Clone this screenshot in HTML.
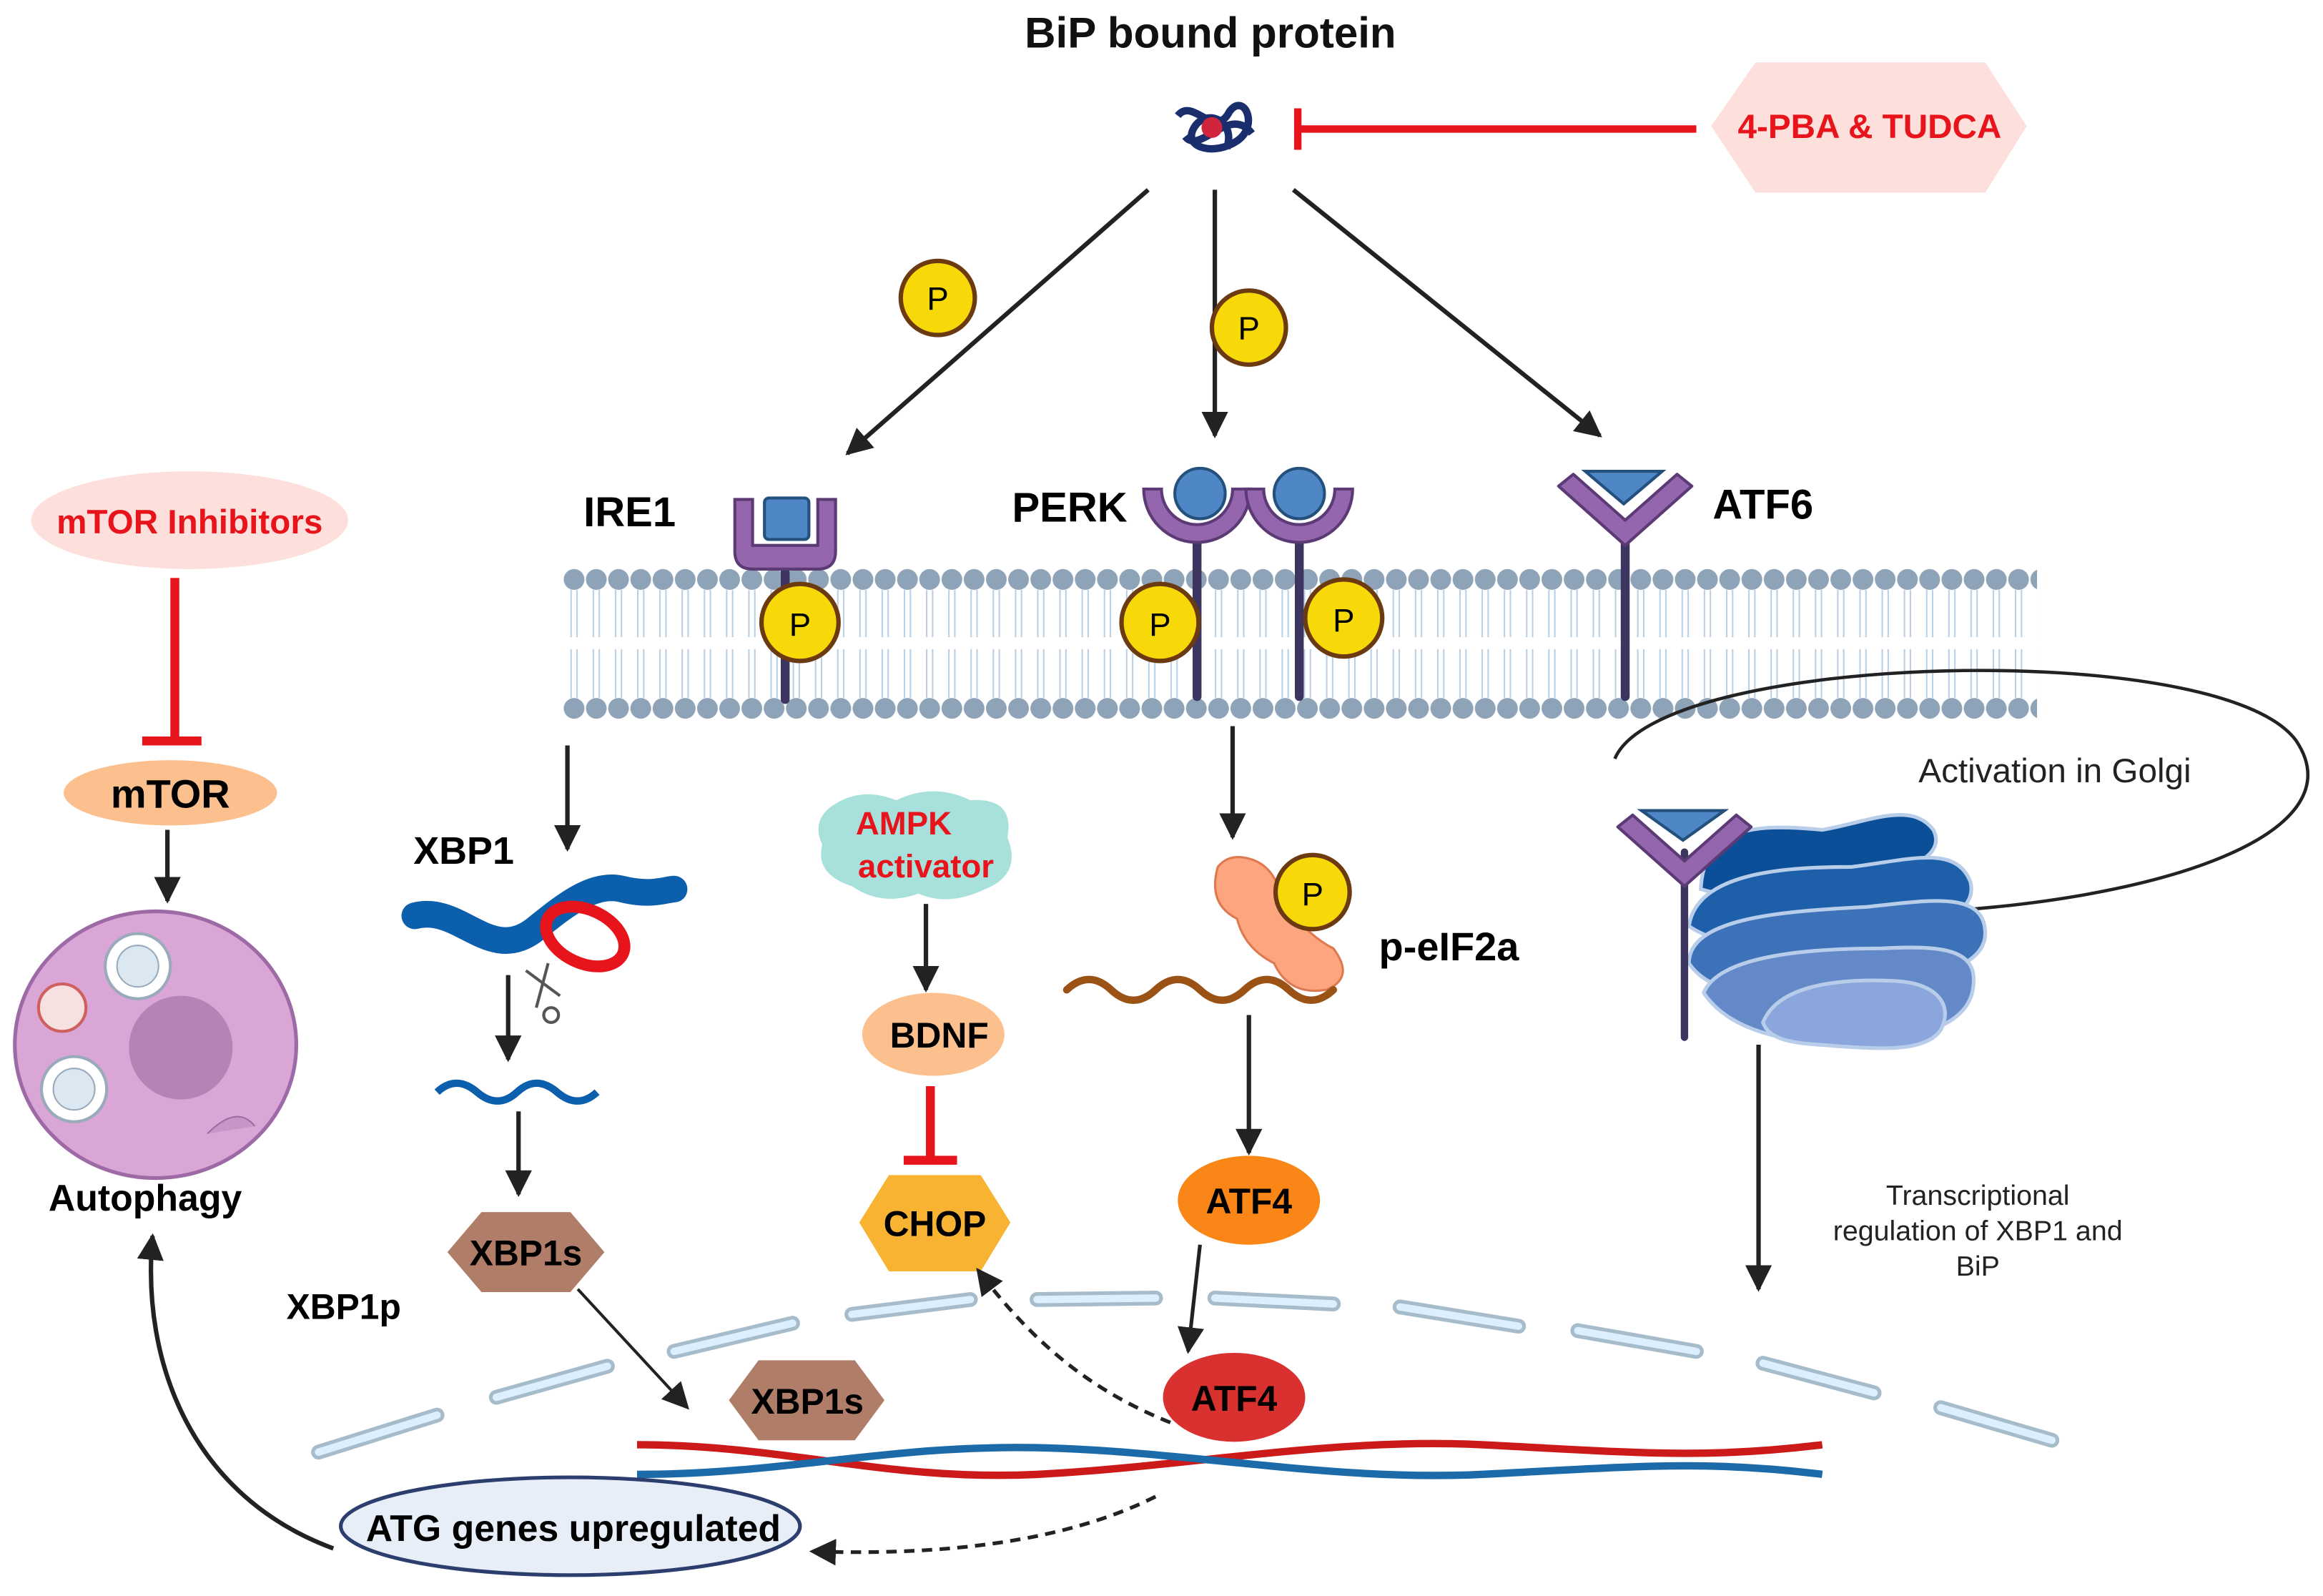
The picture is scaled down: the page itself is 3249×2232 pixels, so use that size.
<!DOCTYPE html>
<html><head><meta charset="utf-8"><style>
html,body{margin:0;padding:0;background:#fff;}
svg{display:block;}
text{font-family:"Liberation Sans",sans-serif;}
.b{font-weight:bold;}
</style></head><body>
<svg width="3249" height="2232" viewBox="0 0 1568 1077" xmlns="http://www.w3.org/2000/svg">
<defs>
<marker id="ah" viewBox="0 0 10 10" refX="9" refY="5" markerWidth="7" markerHeight="7" orient="auto-start-reverse" markerUnits="userSpaceOnUse"><path d="M0,0 L10,5 L0,10 z" fill="#222"/></marker>
<marker id="ah2" viewBox="0 0 10 10" refX="9" refY="5" markerWidth="18" markerHeight="18" orient="auto" markerUnits="userSpaceOnUse"><path d="M0,0 L10,5 L0,10 z" fill="#222"/></marker>
<pattern id="mem" x="380" y="0" width="15" height="1077" patternUnits="userSpaceOnUse">
<circle cx="7.5" cy="391" r="7" fill="#8fa3b8"/>
<circle cx="7.5" cy="478" r="7" fill="#8fa3b8"/>
<path d="M5.5,398 L5.5,430 M9.5,398 L9.5,430 M5.5,438 L5.5,471 M9.5,438 L9.5,471" stroke="#b9cfe6" stroke-width="1"/>
</pattern>
</defs>
<rect width="1568" height="1077" fill="#fff"/>

<!-- Title -->
<text x="817" y="32" font-size="29" class="b" text-anchor="middle" fill="#111">BiP bound protein</text>
<!-- protein squiggle -->
<g fill="none" stroke="#1a2e6e" stroke-width="5">
<path d="M795,78 C805,65 820,95 830,75 C840,62 850,85 835,95 C820,105 800,100 805,88 C812,72 835,80 828,100"/>
<path d="M800,92 C810,105 830,70 845,90"/>
</g>
<circle cx="818" cy="86" r="7" fill="#d0253c"/>
<!-- inhibitor -->
<line x1="1145" y1="87" x2="876" y2="87" stroke="#e8141c" stroke-width="5"/>
<line x1="876" y1="73" x2="876" y2="101" stroke="#e8141c" stroke-width="5"/>
<polygon points="1155,85 1185,42 1340,42 1368,85 1340,130 1185,130" fill="#fde0dc"/>
<text x="1262" y="93" font-size="23" class="b" text-anchor="middle" fill="#e8141c">4-PBA &amp; TUDCA</text>

<!-- top arrows -->
<g stroke="#222" stroke-width="3" marker-end="url(#ah2)">
<line x1="775" y1="128" x2="572" y2="306"/>
<line x1="820" y1="128" x2="820" y2="294"/>
<line x1="873" y1="128" x2="1080" y2="294"/>
</g>
<g stroke="#6b3a10" stroke-width="3" fill="#f7d90a">
<circle cx="633" cy="201" r="25"/><circle cx="843" cy="221" r="25"/>
</g>
<text x="633" y="209" font-size="22" text-anchor="middle">P</text>
<text x="843" y="229" font-size="22" text-anchor="middle">P</text>

<!-- membrane -->
<rect x="380" y="380" width="995" height="106" fill="url(#mem)"/>

<!-- IRE1 -->
<text x="425" y="355" font-size="28" class="b" text-anchor="middle">IRE1</text>
<line x1="530" y1="380" x2="530" y2="472" stroke="#3b3560" stroke-width="6" stroke-linecap="round"/>
<path d="M496,337 L496,372 Q496,384 508,384 L552,384 Q564,384 564,372 L564,337 L552,337 L552,368 L508,368 L508,337 Z" fill="#9466ad" stroke="#5c3a75" stroke-width="2"/>
<rect x="516" y="336" width="30" height="28" rx="3" fill="#4f86c6" stroke="#24507e" stroke-width="2"/>
<circle cx="540" cy="420" r="26" fill="#f7d90a" stroke="#6b3a10" stroke-width="3"/>
<text x="540" y="429" font-size="22" text-anchor="middle">P</text>

<!-- PERK -->
<text x="722" y="352" font-size="28" class="b" text-anchor="middle">PERK</text>
<g stroke="#3b3560" stroke-width="6" stroke-linecap="round"><line x1="808" y1="365" x2="808" y2="470"/><line x1="877" y1="365" x2="877" y2="470"/></g>
<path d="M772,330 A36,36 0 0 0 844,330 L832,330 A24,24 0 0 1 784,330 Z" fill="#9466ad" stroke="#5c3a75" stroke-width="2"/>
<path d="M841,330 A36,36 0 0 0 913,330 L901,330 A24,24 0 0 1 853,330 Z" fill="#9466ad" stroke="#5c3a75" stroke-width="2"/>
<circle cx="810" cy="333" r="17" fill="#4f86c6" stroke="#24507e" stroke-width="2"/>
<circle cx="877" cy="333" r="17" fill="#4f86c6" stroke="#24507e" stroke-width="2"/>
<circle cx="783" cy="420" r="26" fill="#f7d90a" stroke="#6b3a10" stroke-width="3"/>
<text x="783" y="429" font-size="22" text-anchor="middle">P</text>
<circle cx="907" cy="417" r="26" fill="#f7d90a" stroke="#6b3a10" stroke-width="3"/>
<text x="907" y="426" font-size="22" text-anchor="middle">P</text>

<!-- ATF6 -->
<text x="1190" y="350" font-size="28" class="b" text-anchor="middle">ATF6</text>
<line x1="1097" y1="365" x2="1097" y2="470" stroke="#3b3560" stroke-width="6" stroke-linecap="round"/>
<path d="M1052,328 L1097,368 L1142,328 L1132,320 L1097,351 L1062,320 Z" fill="#9466ad" stroke="#5c3a75" stroke-width="2" stroke-linejoin="round"/>
<polygon points="1070,318 1122,318 1096,340" fill="#4f86c6" stroke="#24507e" stroke-width="2"/>

<!-- curved arrow Golgi -->
<path d="M1090,512 C1120,440 1500,430 1550,500 C1590,560 1470,605 1310,615" fill="none" stroke="#222" stroke-width="2.2" marker-end="url(#ah2)"/>
<text x="1387" y="528" font-size="23" text-anchor="middle" fill="#222">Activation in Golgi</text>

<!-- Golgi -->
<g stroke="#b8cdea" stroke-width="2.5">
<path d="M1148,600 C1150,560 1180,555 1230,560 C1260,555 1290,540 1305,560 C1315,580 1280,590 1250,595 C1220,600 1180,610 1148,600 Z" fill="#0b4f98"/>
<path d="M1140,625 C1145,590 1200,585 1250,585 C1290,580 1320,570 1330,595 C1335,615 1310,625 1270,630 C1220,640 1170,645 1140,625 Z" fill="#1d5fa8"/>
<path d="M1140,650 C1140,620 1200,615 1260,612 C1300,608 1340,600 1340,630 C1340,650 1310,660 1270,665 C1220,672 1160,680 1140,650 Z" fill="#3d72b8"/>
<path d="M1150,670 C1160,645 1220,640 1270,640 C1310,638 1335,640 1332,665 C1330,690 1300,700 1260,703 C1220,706 1170,700 1150,670 Z" fill="#6489c9"/>
<path d="M1190,690 C1200,665 1240,660 1280,662 C1310,664 1318,680 1310,695 C1300,710 1270,708 1240,706 C1220,704 1195,705 1190,690 Z" fill="#8aa6dc"/>
</g>
<line x1="1137" y1="575" x2="1137" y2="700" stroke="#3b3560" stroke-width="5" stroke-linecap="round"/>
<path d="M1092,558 L1137,598 L1182,558 L1172,550 L1137,581 L1102,550 Z" fill="#9466ad" stroke="#5c3a75" stroke-width="2" stroke-linejoin="round"/>
<polygon points="1108,547 1164,547 1136,567" fill="#4f86c6" stroke="#24507e" stroke-width="2"/>
<line x1="1187" y1="705" x2="1187" y2="870" stroke="#222" stroke-width="3" marker-end="url(#ah2)"/>
<text font-size="19" text-anchor="middle" fill="#222"><tspan x="1335" y="813">Transcriptional</tspan><tspan x="1335" y="837">regulation of XBP1 and</tspan><tspan x="1335" y="861">BiP</tspan></text>

<!-- mTOR side -->
<ellipse cx="128" cy="351" rx="107" ry="33" fill="#fde0dc"/>
<text x="128" y="360" font-size="23" class="b" text-anchor="middle" fill="#e8141c">mTOR Inhibitors</text>
<line x1="118" y1="390" x2="118" y2="500" stroke="#e8141c" stroke-width="6"/>
<line x1="96" y1="500" x2="136" y2="500" stroke="#e8141c" stroke-width="6"/>
<ellipse cx="115" cy="535" rx="72" ry="22" fill="#fcc08f"/>
<text x="115" y="545" font-size="27" class="b" text-anchor="middle">mTOR</text>
<line x1="113" y1="560" x2="113" y2="608" stroke="#222" stroke-width="3" marker-end="url(#ah2)"/>
<ellipse cx="105" cy="705" rx="95" ry="90" fill="#d9a6d6" stroke="#9e6aa6" stroke-width="2.5"/>
<circle cx="122" cy="707" r="35" fill="#b783b7"/>
<circle cx="93" cy="652" r="22" fill="#fff" stroke="#9ab" stroke-width="2"/><circle cx="93" cy="652" r="14" fill="#dbe8f2" stroke="#9ab"/>
<circle cx="50" cy="735" r="22" fill="#fff" stroke="#9ab" stroke-width="2"/><circle cx="50" cy="735" r="14" fill="#dbe8f2" stroke="#9ab"/>
<circle cx="42" cy="680" r="16" fill="#f7e0e0" stroke="#d06060" stroke-width="2"/>
<path d="M140,765 Q160,745 172,760" fill="#c995c9" stroke="#9e6aa6"/>
<text x="98" y="817" font-size="25" class="b" text-anchor="middle">Autophagy</text>

<!-- IRE1 branch -->
<line x1="383" y1="503" x2="383" y2="573" stroke="#222" stroke-width="3" marker-end="url(#ah2)"/>
<text x="313" y="583" font-size="26" class="b" text-anchor="middle">XBP1</text>
<path d="M280,618 C310,610 330,650 360,628 C380,612 400,595 420,600 C440,605 450,600 455,600" fill="none" stroke="#0b5fad" stroke-width="18" stroke-linecap="round"/>
<ellipse cx="395" cy="632" rx="28" ry="18" fill="none" stroke="#e8141c" stroke-width="8" transform="rotate(25 395 632)"/>
<path d="M355,655 L378,672 M370,650 L362,680" stroke="#555" stroke-width="2"/>
<circle cx="372" cy="685" r="5" fill="none" stroke="#555" stroke-width="2"/>
<line x1="343" y1="658" x2="343" y2="715" stroke="#222" stroke-width="3" marker-end="url(#ah2)"/>
<path d="M295,737 q13,-12 27,0 t27,0 t27,0 t27,0" fill="none" stroke="#0b5fad" stroke-width="5"/>
<line x1="350" y1="750" x2="350" y2="806" stroke="#222" stroke-width="3" marker-end="url(#ah2)"/>
<polygon points="302,845 325,818 385,818 408,845 385,872 325,872" fill="#b07d68"/>
<text x="355" y="854" font-size="24" class="b" text-anchor="middle">XBP1s</text>
<text x="232" y="890" font-size="24" class="b" text-anchor="middle">XBP1p</text>
<line x1="390" y1="870" x2="464" y2="950" stroke="#222" stroke-width="2" marker-end="url(#ah2)"/>

<!-- AMPK branch -->
<path d="M560,545 Q580,530 605,540 Q630,528 655,540 Q685,538 680,565 Q690,590 665,600 Q640,612 620,603 Q595,612 575,598 Q550,590 555,570 Q548,555 560,545 Z" fill="#a8e0dc"/>
<text font-size="22" class="b" text-anchor="middle" fill="#e8141c"><tspan x="610" y="563">AMPK</tspan><tspan x="625" y="592">activator</tspan></text>
<line x1="625" y1="610" x2="625" y2="668" stroke="#222" stroke-width="3" marker-end="url(#ah2)"/>
<ellipse cx="630" cy="698" rx="48" ry="28" fill="#fcc08f"/>
<text x="634" y="707" font-size="24" class="b" text-anchor="middle">BDNF</text>
<line x1="628" y1="733" x2="628" y2="783" stroke="#e8141c" stroke-width="6"/>
<line x1="610" y1="783" x2="646" y2="783" stroke="#e8141c" stroke-width="6"/>
<polygon points="580,825 600,793 662,793 682,825 662,858 600,858" fill="#f8b333"/>
<text x="631" y="834" font-size="24" class="b" text-anchor="middle">CHOP</text>

<!-- PERK branch -->
<line x1="832" y1="490" x2="832" y2="565" stroke="#222" stroke-width="3" marker-end="url(#ah2)"/>
<path d="M822,585 Q830,575 845,580 Q860,585 865,605 Q880,630 900,640 Q915,660 895,668 Q870,672 860,650 Q840,640 835,620 Q815,610 822,585 Z" fill="#fca57e" stroke="#e07850" stroke-width="1.5"/>
<circle cx="886" cy="602" r="25" fill="#f7d90a" stroke="#6b3a10" stroke-width="3"/>
<text x="886" y="611" font-size="22" text-anchor="middle">P</text>
<text x="978" y="648" font-size="27" class="b" text-anchor="middle">p-eIF2a</text>
<path d="M720,668 q15,-14 30,0 t30,0 t30,0 t30,0 t30,0 t30,0" fill="none" stroke="#9b5215" stroke-width="5" stroke-linecap="round"/>
<line x1="843" y1="685" x2="843" y2="778" stroke="#222" stroke-width="3" marker-end="url(#ah2)"/>
<ellipse cx="843" cy="810" rx="48" ry="30" fill="#f98616"/>
<text x="843" y="819" font-size="24" class="b" text-anchor="middle">ATF4</text>
<line x1="810" y1="840" x2="802" y2="912" stroke="#222" stroke-width="2.5" marker-end="url(#ah2)"/>

<!-- nuclear envelope -->
<g stroke="#a6bccb" stroke-width="10" stroke-linecap="round"><path d="M215,980 L295,955 M335,943 L410,922 M455,912 L535,893 M575,887 L655,877 M700,877 L780,876 M820,876 L900,880 M945,882 L1025,895 M1065,898 L1145,912 M1190,920 L1265,940 M1310,950 L1385,972"/></g>
<g stroke="#dcefff" stroke-width="5" stroke-linecap="round"><path d="M215,980 L295,955 M335,943 L410,922 M455,912 L535,893 M575,887 L655,877 M700,877 L780,876 M820,876 L900,880 M945,882 L1025,895 M1065,898 L1145,912 M1190,920 L1265,940 M1310,950 L1385,972"/></g>

<polygon points="492,945 512,918 577,918 597,945 577,972 512,972" fill="#b07d68"/>
<text x="545" y="954" font-size="24" class="b" text-anchor="middle">XBP1s</text>

<!-- DNA -->
<path d="M430,975 C530,975 600,1000 700,995 S900,970 1000,975 S1150,985 1230,975" fill="none" stroke="#cc1a1a" stroke-width="5"/>
<path d="M430,995 C530,995 600,975 700,977 S900,1000 1000,995 S1150,985 1230,995" fill="none" stroke="#1c6aa8" stroke-width="5"/>

<ellipse cx="833" cy="943" rx="48" ry="30" fill="#d93030"/>
<text x="833" y="952" font-size="24" class="b" text-anchor="middle">ATF4</text>

<!-- dashed arrows -->
<path d="M790,960 C740,940 700,910 660,857" fill="none" stroke="#222" stroke-width="2.5" stroke-dasharray="7,5" marker-end="url(#ah2)"/>
<path d="M780,1010 C720,1040 640,1050 548,1047" fill="none" stroke="#222" stroke-width="2.5" stroke-dasharray="7,5" marker-end="url(#ah2)"/>

<!-- ATG -->
<ellipse cx="385" cy="1030" rx="155" ry="33" fill="#e8eef8" stroke="#2c3e6e" stroke-width="2.5"/>
<text x="387" y="1040" font-size="25" class="b" text-anchor="middle">ATG genes upregulated</text>
<path d="M225,1045 C130,1010 95,920 103,834" fill="none" stroke="#222" stroke-width="3" marker-end="url(#ah2)"/>
</svg>
</body></html>
